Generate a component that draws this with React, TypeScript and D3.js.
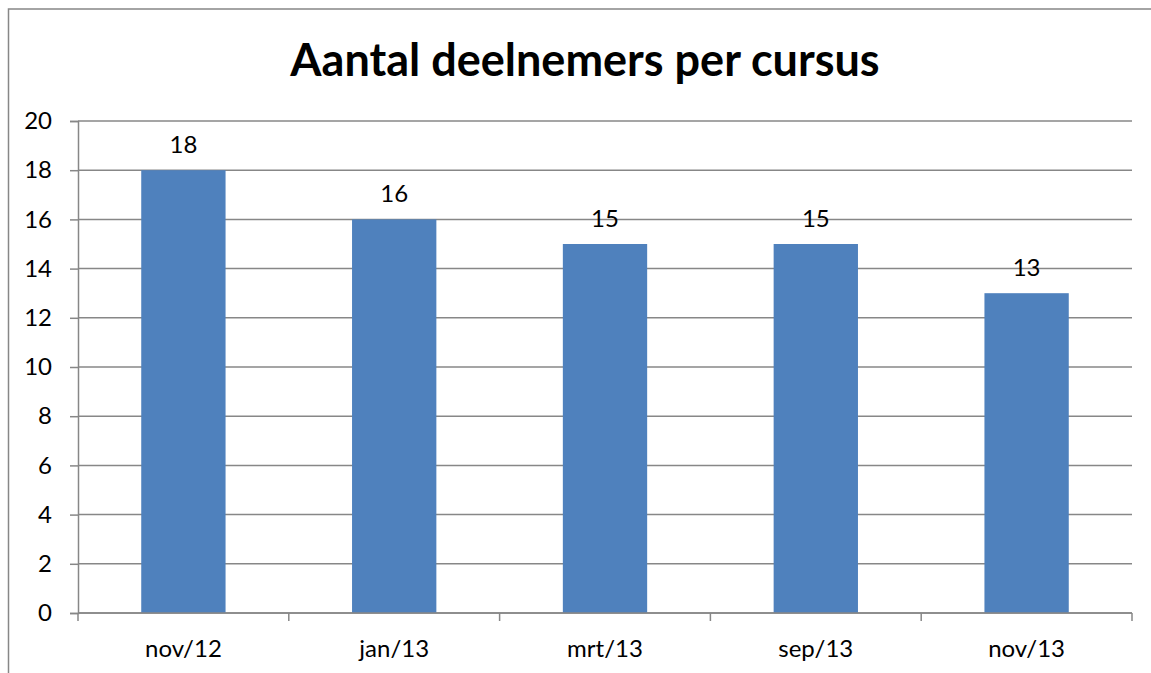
import React, { useEffect, useRef } from "react";
import * as d3 from "d3";

// Chart data
const categories = ["nov/12", "jan/13", "mrt/13", "sep/13", "nov/13"];
const participants = [18, 16, 15, 15, 13];
const yTicks = [0, 2, 4, 6, 8, 10, 12, 14, 16, 18, 20];
const title = "Aantal deelnemers per cursus";

const App = () => {
  const svgRef = useRef<SVGSVGElement>(null);

  useEffect(() => {
    const width = 1151;
    const height = 673;
    const font = "Lato, 'Open Sans', sans-serif";
    const grey = "#878787";

    const svg = d3.select(svgRef.current);
    svg.selectAll("*").remove();
    svg.attr("width", width).attr("height", height);

    // outer chart frame (runs off the right/bottom edge)
    svg
      .append("rect")
      .attr("x", 8.5)
      .attr("y", 9)
      .attr("width", 1170)
      .attr("height", 700)
      .attr("fill", "white")
      .attr("stroke", grey)
      .attr("stroke-width", 1.5);

    // title
    svg
      .append("text")
      .attr("x", 585)
      .attr("y", 76)
      .attr("text-anchor", "middle")
      .style("font-family", font)
      .style("font-weight", "bold")
      .style("font-size", "45px")
      .text(title);

    const plot = { left: 78, right: 1132, top: 121, bottom: 613 };

    const xScale = d3
      .scaleBand()
      .domain(categories)
      .range([plot.left, plot.right])
      .paddingInner(0)
      .paddingOuter(0);

    const yScale = d3
      .scaleLinear()
      .domain([0, 20])
      .range([plot.bottom, plot.top]);

    // y tick marks and labels
    const yAxis = svg
      .append("g")
      .attr("transform", `translate(${plot.left},0)`)
      .call(
        d3
          .axisLeft(yScale)
          .tickValues(yTicks)
          .tickSize(8)
          .tickPadding(18)
          .tickFormat((d) => String(d))
      );
    yAxis.select(".domain").attr("stroke", grey).attr("stroke-width", 1.5);
    yAxis.selectAll(".tick line").attr("stroke", grey).attr("stroke-width", 1.5);
    yAxis
      .selectAll(".tick text")
      .style("font-family", font)
      .style("font-size", "24px")
      .attr("fill", "#000");

    // horizontal gridlines
    svg
      .append("g")
      .selectAll("line")
      .data(yTicks)
      .enter()
      .append("line")
      .attr("x1", plot.left)
      .attr("x2", plot.right)
      .attr("y1", (d) => yScale(d))
      .attr("y2", (d) => yScale(d))
      .attr("stroke", grey)
      .attr("stroke-width", 1.5);

    // bars
    const barWidth = xScale.bandwidth() * 0.4;
    svg
      .selectAll(".bar")
      .data(participants)
      .enter()
      .append("rect")
      .attr("class", "bar")
      .attr("x", (d, i) => xScale(categories[i])! + (xScale.bandwidth() - barWidth) / 2)
      .attr("y", (d) => yScale(d))
      .attr("width", barWidth)
      .attr("height", (d) => yScale(0) - yScale(d))
      .attr("fill", "#4F81BD");

    // value labels
    svg
      .selectAll(".value")
      .data(participants)
      .enter()
      .append("text")
      .attr("class", "value")
      .attr("x", (d, i) => xScale(categories[i])! + xScale.bandwidth() / 2)
      .attr("y", (d) => yScale(d) - 17)
      .attr("text-anchor", "middle")
      .style("font-family", font)
      .style("font-size", "24px")
      .text((d) => d);

    // x axis: ticks at band boundaries
    const xAxisY = plot.bottom;
    svg
      .append("line")
      .attr("x1", plot.left)
      .attr("x2", plot.right)
      .attr("y1", xAxisY)
      .attr("y2", xAxisY)
      .attr("stroke", grey)
      .attr("stroke-width", 1.5);

    const bounds = categories.map((c) => xScale(c)!).concat([plot.right]);
    svg
      .append("g")
      .selectAll("line")
      .data(bounds)
      .enter()
      .append("line")
      .attr("x1", (d) => d)
      .attr("x2", (d) => d)
      .attr("y1", xAxisY)
      .attr("y2", xAxisY + 8)
      .attr("stroke", grey)
      .attr("stroke-width", 1.5);

    svg
      .append("g")
      .selectAll("text")
      .data(categories)
      .enter()
      .append("text")
      .attr("x", (d) => xScale(d)! + xScale.bandwidth() / 2)
      .attr("y", 657)
      .attr("text-anchor", "middle")
      .style("font-family", font)
      .style("font-size", "24px")
      .text((d) => d);
  }, []);

  return (
    <div style={{ position: "absolute", left: 0, top: 0 }}>
      <svg ref={svgRef}></svg>
    </div>
  );
};

export default App;
